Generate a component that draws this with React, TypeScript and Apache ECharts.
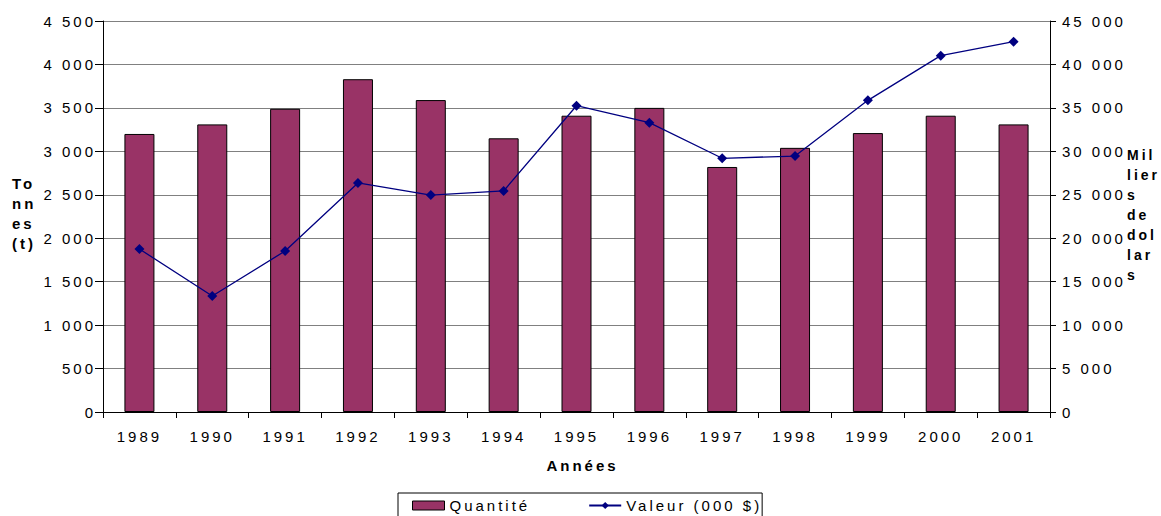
import React, { useEffect, useRef } from "react";
import * as echarts from "echarts";

const annees = ["1989", "1990", "1991", "1992", "1993", "1994", "1995", "1996", "1997", "1998", "1999", "2000", "2001"];
const quantite = [3200, 3310, 3490, 3830, 3590, 3150, 3410, 3500, 2820, 3040, 3210, 3410, 3310];
const valeur = [18760, 13350, 18530, 26360, 24970, 25440, 35250, 33300, 29200, 29460, 35870, 41010, 42620];

const fmt = (v: number) => String(v).replace(/\B(?=(\d{3})+(?!\d))/g, " ");

const FONT = "'Liberation Sans', Arial, sans-serif";

export default function App() {
  const ref = useRef<HTMLDivElement>(null);
  useEffect(() => {
    if (!ref.current) return;
    const chart = echarts.init(ref.current, undefined, { renderer: "svg" });
    const lbl = { color: "#000", fontFamily: FONT, fontSize: 15 };
    chart.setOption({
      animation: false,
      backgroundColor: "#fff",
      textStyle: { fontFamily: FONT },
      grid: { left: 103, right: 111, top: 21, bottom: 104, containLabel: false },
      legend: {
        left: 398,
        top: 493,
        orient: "horizontal",
        padding: [5, 42, 20, 14],
        borderColor: "#000",
        borderWidth: 1,
        itemWidth: 32,
        itemHeight: 9,
        itemGap: 82,
        textStyle: { ...lbl },
        data: [
          { name: "Quantité", icon: "rect", itemStyle: { color: "#993366", borderColor: "#000", borderWidth: 1 } },
          { name: "Valeur (000 $)" },
        ],
      },
      xAxis: {
        type: "category",
        data: annees,
        boundaryGap: true,
        axisLine: { lineStyle: { color: "#000", width: 1 } },
        axisTick: { show: true, alignWithLabel: false, length: 6, lineStyle: { color: "#000" } },
        axisLabel: { ...lbl, margin: 17 },
        name: "Années",
        nameLocation: "middle",
        nameGap: 46,
        nameTextStyle: { color: "#000", fontFamily: FONT, fontSize: 15, fontWeight: "bold", padding: [0, 0, 0, 12] },
      },
      yAxis: [
        {
          type: "value",
          min: 0,
          max: 4500,
          interval: 500,
          axisLine: { show: true, lineStyle: { color: "#000", width: 1 } },
          axisTick: { show: true, length: 8, lineStyle: { color: "#000" } },
          axisLabel: { ...lbl, margin: 7, formatter: (v: number) => fmt(v) },
          splitLine: { show: true, lineStyle: { color: "#808080", width: 1 } },
        },
        {
          type: "value",
          min: 0,
          max: 45000,
          interval: 5000,
          position: "right",
          axisLine: { show: true, lineStyle: { color: "#000", width: 1 } },
          axisTick: { show: true, length: 6, lineStyle: { color: "#000" } },
          axisLabel: { ...lbl, margin: 12, formatter: (v: number) => fmt(v) },
          splitLine: { show: false },
        },
      ],
      graphic: [
        {
          type: "text",
          left: 12,
          top: 173,
          style: {
            text: "To\nnn\nes\n(t)",
            fill: "#000",
            font: `bold 15px ${FONT}`,
            lineHeight: 20,
          },
        },
        {
          type: "text",
          left: 1127,
          top: 145,
          style: {
            text: "Mil\nlier\ns\nde\ndol\nlar\ns",
            fill: "#000",
            font: `bold 14px ${FONT}`,
            lineHeight: 20,
          },
        },
      ],
      series: [
        {
          name: "Quantité",
          type: "bar",
          yAxisIndex: 0,
          data: quantite,
          barWidth: 30,
          itemStyle: { color: "#993366", borderColor: "#000", borderWidth: 1 },
        },
        {
          name: "Valeur (000 $)",
          type: "line",
          yAxisIndex: 1,
          data: valeur,
          symbol: "diamond",
          symbolSize: 10,
          lineStyle: { color: "#000080", width: 1.3 },
          itemStyle: { color: "#000080" },
        },
      ],
    });
    return () => chart.dispose();
  }, []);
  return (
    <div
      ref={ref}
      style={{ position: "fixed", left: 0, top: 0, width: 1161, height: 516, letterSpacing: "3px", background: "#fff" }}
    />
  );
}
